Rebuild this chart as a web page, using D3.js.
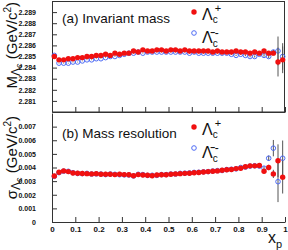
<!DOCTYPE html>
<html>
<head>
<meta charset="utf-8">
<script src="https://cdn.jsdelivr.net/npm/d3@7"></script>
<style>
body { margin: 0; background: #fff; }
svg { display: block; }
text { font-family: "Liberation Sans", Arial, sans-serif; }
</style>
</head>
<body>
<svg id="chart" width="288" height="250"></svg>
<script>
// x_p bin centres
var xp = [0.01,0.03,0.05,0.07,0.09,0.11,0.13,0.15,0.17,0.19,
          0.21,0.23,0.25,0.27,0.29,0.31,0.33,0.35,0.37,0.39,
          0.41,0.43,0.45,0.47,0.49,0.51,0.53,0.55,0.57,0.59,
          0.61,0.63,0.65,0.67,0.69,0.71,0.73,0.75,0.77,0.79,
          0.81,0.83,0.85,0.87,0.89,0.91,0.93,0.95,0.97,0.99];

// (a) invariant mass, GeV/c^2
var massPlus = [2.2850,2.2847,2.2847,2.2848,2.2848,2.2849,2.2849,2.2850,2.2850,2.2851,
                2.2851,2.2852,2.2851,2.2853,2.2852,2.2853,2.2853,2.2855,2.2854,2.2856,
                2.2855,2.2855,2.2856,2.2856,2.2855,2.2856,2.2856,2.2855,2.2856,2.2855,
                2.2855,2.2855,2.2855,2.2855,2.2854,2.2855,2.2854,2.2854,2.2854,2.2855,
                2.2854,2.2854,2.2853,2.2854,2.2853,2.2855,2.2853,2.2853,2.2845,2.2847];
var massPlusErr = [0.00003,0.00003,0.00003,0.00003,0.00003,0.00003,0.00003,0.00003,0.00003,0.00003,
                   0.00003,0.00003,0.00003,0.00003,0.00003,0.00003,0.00003,0.00003,0.00003,0.00003,
                   0.00003,0.00003,0.00003,0.00003,0.00003,0.00003,0.00003,0.00003,0.00003,0.00003,
                   0.00003,0.00003,0.00003,0.00003,0.00004,0.00004,0.00004,0.00005,0.00005,0.00006,
                   0.00006,0.00007,0.00008,0.00009,0.0001,0.00012,0.00015,0.0002,0.0013,0.0012];
var massMinus = [2.2851,2.2844,2.2844,2.2844,2.2845,2.2845,2.2846,2.2847,2.2847,2.2848,
                 2.2848,2.2849,2.2850,2.2850,2.2851,2.2852,2.2853,2.2853,2.2854,2.2853,
                 2.2854,2.2854,2.2854,2.2854,2.2854,2.2854,2.2854,2.2854,2.2854,2.2853,
                 2.2854,2.2853,2.2853,2.2853,2.2853,2.2853,2.2853,2.2853,2.2852,2.2851,
                 2.2852,2.2851,2.2850,2.2850,2.2852,2.2851,2.2850,2.2854,2.2855,2.2850];
var massMinusErr = massPlusErr;

// (b) mass resolution, GeV/c^2
var sigPlus = [0.00338,0.00365,0.00375,0.00370,0.00360,0.00358,0.00356,0.00355,0.00353,0.00355,
               0.00350,0.00350,0.00350,0.00348,0.00350,0.00348,0.00347,0.00340,0.00348,0.00345,
               0.00343,0.00340,0.00345,0.00347,0.00347,0.00350,0.00353,0.00355,0.00357,0.00358,
               0.00362,0.00363,0.00367,0.00370,0.00372,0.00375,0.00380,0.00383,0.00385,0.00392,
               0.00395,0.00405,0.00412,0.00412,0.00415,0.00372,0.00400,0.00353,0.00450,0.00329];
var sigPlusErr = [0.00005,0.00004,0.00004,0.00004,0.00004,0.00004,0.00004,0.00004,0.00004,0.00004,
                  0.00004,0.00004,0.00004,0.00004,0.00004,0.00004,0.00004,0.00004,0.00004,0.00004,
                  0.00004,0.00004,0.00004,0.00004,0.00004,0.00004,0.00004,0.00004,0.00004,0.00004,
                  0.00004,0.00004,0.00004,0.00004,0.00005,0.00005,0.00005,0.00006,0.00006,0.00007,
                  0.00007,0.00008,0.00009,0.0001,0.00012,0.00015,0.0002,0.0003,0.0012,0.0012];
var sigMinus = [0.00335,0.00362,0.00373,0.00372,0.00362,0.00356,0.00355,0.00357,0.00352,0.00353,
                0.00352,0.00348,0.00352,0.00350,0.00347,0.00346,0.00345,0.00338,0.00350,0.00348,
                0.00342,0.00343,0.00342,0.00348,0.00348,0.00352,0.00352,0.00357,0.00358,0.00360,
                0.00364,0.00365,0.00368,0.00370,0.00374,0.00377,0.00378,0.00385,0.00387,0.00390,
                0.00400,0.00403,0.00410,0.00413,0.00410,0.00395,0.00468,0.00542,0.00296,0.00468];
var sigMinusErr = [0.00005,0.00004,0.00004,0.00004,0.00004,0.00004,0.00004,0.00004,0.00004,0.00004,
                   0.00004,0.00004,0.00004,0.00004,0.00004,0.00004,0.00004,0.00004,0.00004,0.00004,
                   0.00004,0.00004,0.00004,0.00004,0.00004,0.00004,0.00004,0.00004,0.00004,0.00004,
                   0.00004,0.00004,0.00004,0.00004,0.00005,0.00005,0.00005,0.00006,0.00006,0.00007,
                   0.00007,0.00008,0.00009,0.0001,0.00012,0.00015,0.0002,0.0006,0.0015,0.0013];

var xTicks = [0,0.1,0.2,0.3,0.4,0.5,0.6,0.7,0.8,0.9,1];
var xTickLabels = ["0","0.1","0.2","0.3","0.4","0.5","0.6","0.7","0.8","0.9","1"];
var massTicks = [2.281,2.282,2.283,2.284,2.285,2.286,2.287,2.288,2.289];
var sigTicks = [0,0.001,0.002,0.003,0.004,0.005,0.006,0.007];

var red = "#f01010", blue = "#4f6cf5";
var svg = d3.select("#chart");

var left = 52, right = 285;
var xScale = d3.scaleLinear().domain([0, 1]).range([left, right]);
var yMass = d3.scaleLinear().domain([2.280, 2.290]).range([112, 1]);
var ySig = d3.scaleLinear().domain([0, 0.008]).range([222, 113]);

var xMinor = d3.range(0, 1.0001, 0.02);

// ticks, pointing into the frame
var drawXAxis = function(y, showLabels)
{
    var g = svg.append("g").attr("transform", "translate(0," + y + ")");
    g.call(d3.axisBottom(xScale).tickValues(xMinor).tickSizeInner(-2.5).tickSizeOuter(0).tickFormat(""));
    g.call(d3.axisBottom(xScale).tickValues(xTicks).tickSizeInner(-5).tickSizeOuter(0)
        .tickFormat(function(d, i){ return showLabels ? xTickLabels[i] : ""; }));
    g.selectAll("path,line").attr("stroke", "#333");
    g.selectAll("text").attr("font-size", 8).attr("font-weight", "bold").attr("fill", "#111").attr("y", 4);
    return g;
}

var drawYAxis = function(scale, ticks, minor, fmt)
{
    var g = svg.append("g").attr("transform", "translate(" + left + ",0)");
    g.call(d3.axisLeft(scale).tickValues(minor).tickSizeInner(-2.5).tickSizeOuter(0).tickFormat(""));
    g.call(d3.axisLeft(scale).tickValues(ticks).tickSizeInner(-5).tickSizeOuter(0).tickFormat(fmt));
    g.selectAll("path,line").attr("stroke", "#333");
    g.selectAll("text").attr("font-size", 7).attr("font-weight", "bold").attr("fill", "#111").attr("x", -16);
    return g;
}

// frame of top panel
svg.append("rect").attr("x", left + 0.5).attr("y", 1.5)
    .attr("width", right - left - 1).attr("height", 110.5)
    .attr("fill", "none").attr("stroke", "#333");

drawXAxis(112, false);
drawXAxis(222, true);
drawYAxis(yMass, massTicks, d3.range(2.2805, 2.2900, 0.0005), d3.format(".3f"));
drawYAxis(ySig, sigTicks, d3.range(0.0005, 0.008, 0.0005), function(d){ return d === 0 ? "0" : d3.format(".3f")(d); });

var drawSeries = function(vals, errs, yScale, filled, color)
{
    var g = svg.append("g");
    g.selectAll("line").data(vals).enter().append("line")
        .attr("x1", function(d, i){ return xScale(xp[i]); })
        .attr("x2", function(d, i){ return xScale(xp[i]); })
        .attr("y1", function(d, i){ return yScale(d - errs[i]); })
        .attr("y2", function(d, i){ return yScale(d + errs[i]); })
        .attr("stroke", "#555").attr("stroke-width", 1);
    g.selectAll("circle").data(vals).enter().append("circle")
        .attr("cx", function(d, i){ return xScale(xp[i]); })
        .attr("cy", function(d){ return yScale(d); })
        .attr("r", filled ? 2.7 : 2.3)
        .attr("fill", filled ? color : "none")
        .attr("stroke", color)
        .attr("stroke-width", filled ? 0 : 1);
}

drawSeries(massMinus, massMinusErr, yMass, false, blue);
drawSeries(massPlus, massPlusErr, yMass, true, red);
drawSeries(sigMinus, sigMinusErr, ySig, false, blue);
drawSeries(sigPlus, sigPlusErr, ySig, true, red);

// panel labels and legends
var legend = function(y0, label)
{
    svg.append("text").attr("x", 62).attr("y", y0 + 11).attr("font-size", 13.5)
        .attr("fill", "#111").text(label);
    svg.append("circle").attr("cx", 194).attr("cy", y0).attr("r", 2.7).attr("fill", red);
    var t1 = svg.append("text").attr("x", 202).attr("y", y0 + 7.5).attr("font-size", 16).attr("fill", "#111");
    t1.append("tspan").text("Λ");
    t1.append("tspan").attr("font-size", 10).attr("dy", 3.5).text("c");
    t1.append("tspan").attr("font-size", 11).attr("dx", -3).attr("dy", -11).text("+");
    svg.append("circle").attr("cx", 194).attr("cy", y0 + 21).attr("r", 2.3)
        .attr("fill", "none").attr("stroke", blue).attr("stroke-width", 1);
    var t2 = svg.append("text").attr("x", 202).attr("y", y0 + 30.5).attr("font-size", 16).attr("fill", "#111");
    t2.append("tspan").text("Λ\u0304");
    t2.append("tspan").attr("font-size", 10).attr("dy", 4.5).text("c");
    t2.append("tspan").attr("font-size", 12).attr("dx", -3).attr("dy", -10.5).text("-");
}
legend(12, "(a) Invariant mass");
legend(127, "(b) Mass resolution");

// axis titles
var yTitle = function(yEnd, sym)
{
    var t = svg.append("text").attr("transform", "translate(17," + yEnd + ") rotate(-90)")
        .attr("text-anchor", "end").attr("font-size", 15).attr("fill", "#111");
    t.append("tspan").text(sym);
    t.append("tspan").attr("font-size", 12).attr("dy", 3).text("Λ");
    t.append("tspan").attr("font-size", 9).attr("dy", 2).text("c");
    t.append("tspan").attr("dy", -5).text(" (GeV/c");
    t.append("tspan").attr("font-size", 10).attr("dy", -6).text("2");
    t.append("tspan").attr("dy", 6).text(")");
}
yTitle(2, "M");
yTitle(116, "σ");

var xt = svg.append("text").attr("x", 268).attr("y", 243).attr("font-size", 16).attr("fill", "#111");
xt.append("tspan").text("x");
xt.append("tspan").attr("font-size", 11).attr("dy", 5).text("p");
</script>
</body>
</html>
